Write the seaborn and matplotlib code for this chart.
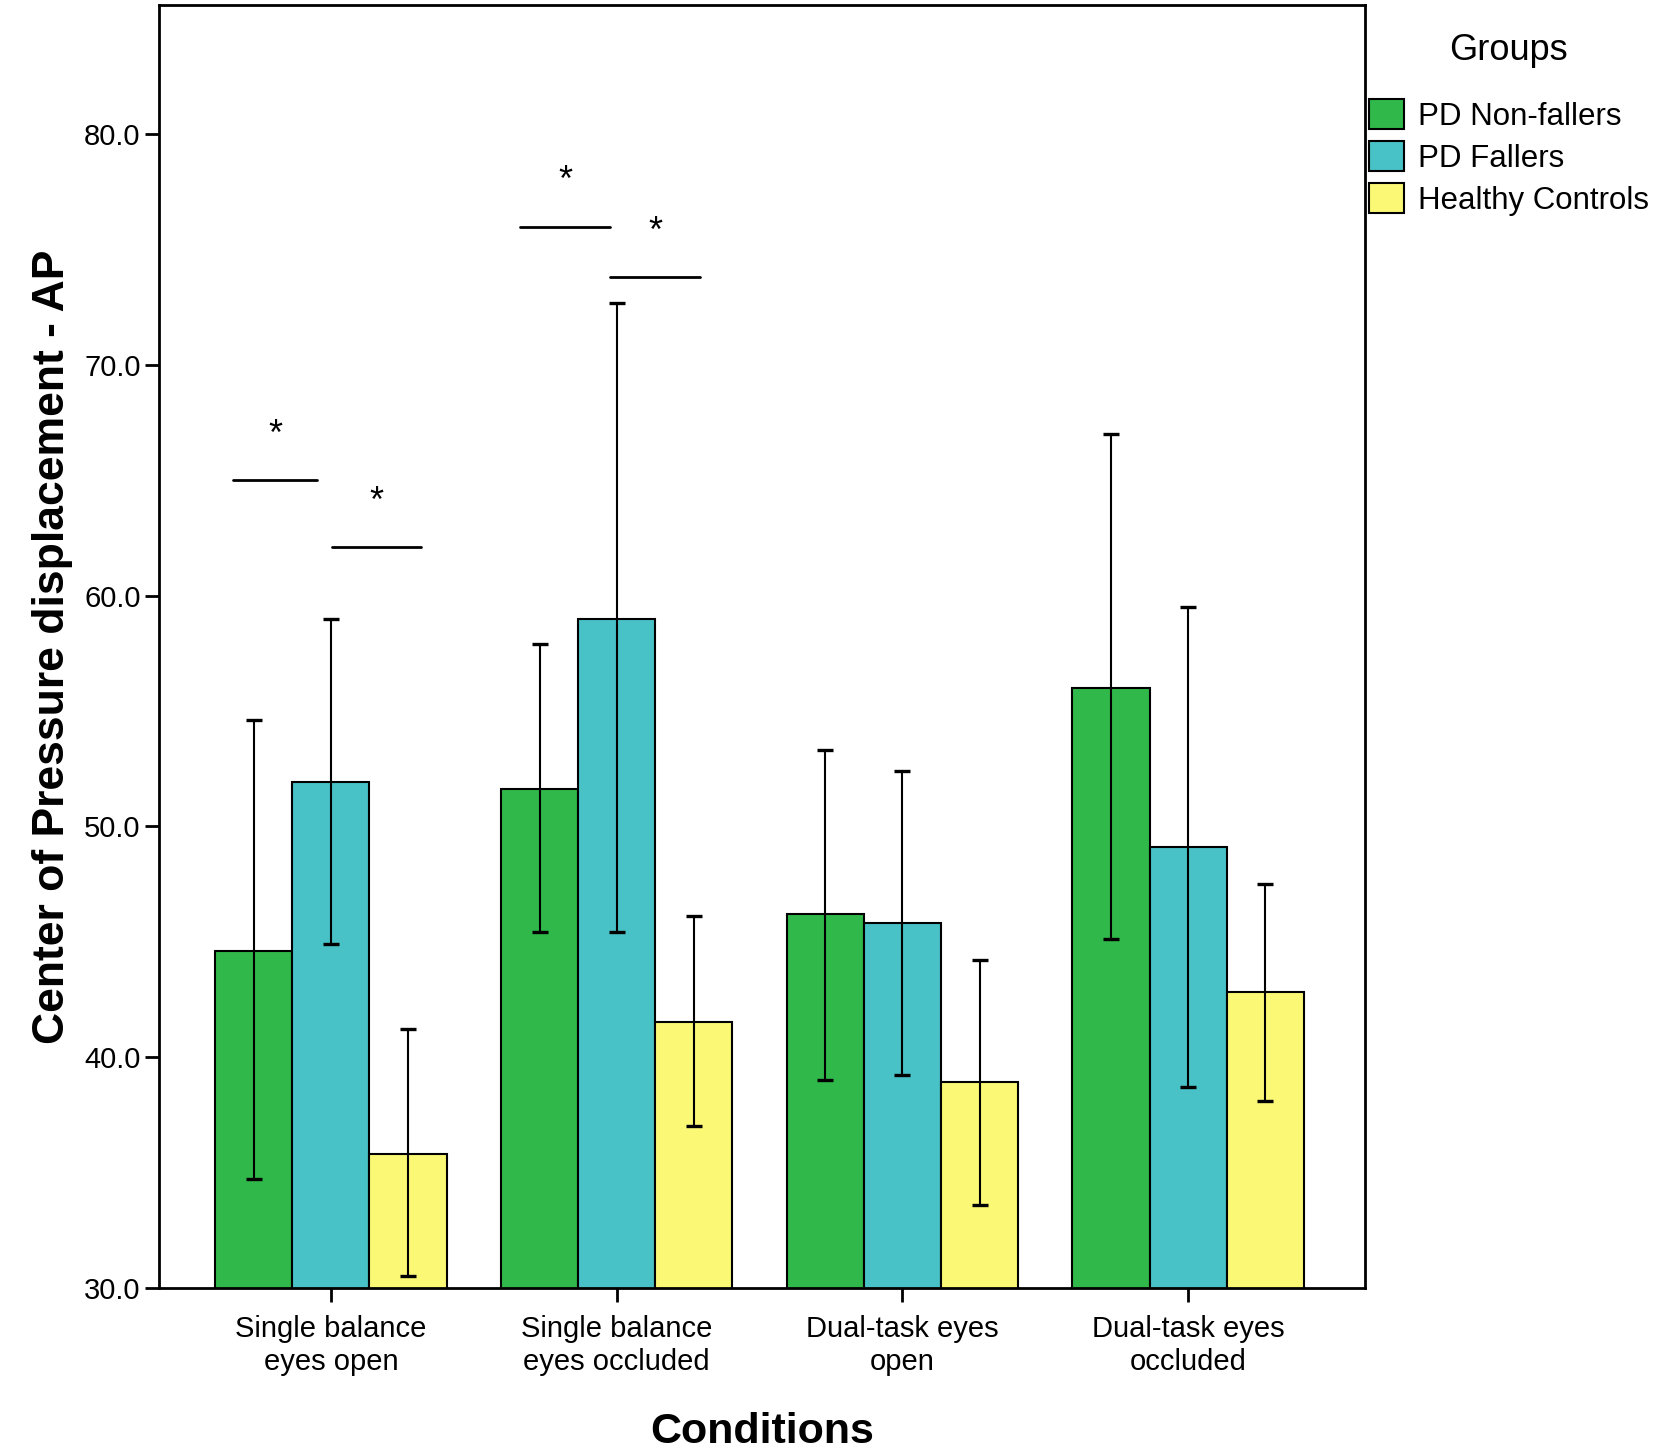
import numpy as np
import pandas as pd
import matplotlib
matplotlib.use("Agg")
import matplotlib.pyplot as plt
import seaborn as sns

conditions = ["Single balance\neyes open", "Single balance\neyes occluded",
              "Dual-task eyes\nopen", "Dual-task eyes\noccluded"]
groups = ["PD Non-fallers", "PD Fallers", "Healthy Controls"]

# mean values per group (one entry per condition)
non_fallers = [44.6, 51.6, 46.2, 56.0]
fallers = [51.9, 59.0, 45.8, 49.1]
controls = [35.8, 41.5, 38.9, 42.8]

# error bar ends
non_fallers_lo = [34.7, 45.4, 39.0, 45.1]
non_fallers_hi = [54.6, 57.9, 53.3, 67.0]
fallers_lo = [44.9, 45.4, 39.2, 38.7]
fallers_hi = [59.0, 72.7, 52.4, 59.5]
controls_lo = [30.5, 37.0, 33.6, 38.1]
controls_hi = [41.2, 46.1, 44.2, 47.5]

# significance brackets: (condition index, x start offset, x end offset, height)
sig_lines = [(0, -0.344, -0.048, 65.0), (0, 0.004, 0.315, 62.1),
             (1, -0.34, -0.022, 76.0), (1, -0.022, 0.29, 73.8)]

colors = ["#30b94a", "#48c2c6", "#fbf876"]

df = pd.DataFrame({
    "Conditions": conditions * 3,
    "Groups": np.repeat(groups, 4),
    "value": non_fallers + fallers + controls,
})
lows = [non_fallers_lo, fallers_lo, controls_lo]
highs = [non_fallers_hi, fallers_hi, controls_hi]

sns.set_style("white")
plt.rcParams['font.family'] = ['Liberation Sans', 'DejaVu Sans']
plt.rcParams['text.color'] = 'black'
plt.rcParams['axes.labelcolor'] = 'black'

fig = plt.figure(figsize=(16.61, 14.5), dpi=100)
ax = fig.add_axes([0.096, 0.112, 0.726, 0.8845])

sns.barplot(data=df, x="Conditions", y="value", hue="Groups", palette=colors,
            errorbar=None, width=0.81, edgecolor="black", linewidth=1.5,
            saturation=1, ax=ax)

bar_conts = list(ax.containers)
for i, cont in enumerate(bar_conts):
    for j, bar in enumerate(cont):
        xc = bar.get_x() + bar.get_width() / 2
        ax.errorbar(xc, (lows[i][j] + highs[i][j]) / 2,
                    yerr=(highs[i][j] - lows[i][j]) / 2,
                    color="black", elinewidth=1.5, capsize=6, capthick=2.4)

for ci, x0, x1, h in sig_lines:
    ax.plot([ci + x0, ci + x1], [h, h], color="black", lw=2)
    ax.text(ci + (x0 + x1) / 2, h + 1.2, "*", ha="center", va="bottom",
            fontsize=26, color="black")

ax.set_ylim(30, 85.6)
ax.set_xlim(-0.6, 3.62)
ax.set_yticks([30, 40, 50, 60, 70, 80])
ax.set_yticklabels([f"{v:.1f}" for v in [30, 40, 50, 60, 70, 80]])
ax.tick_params(axis="both", direction="out", length=10, width=2,
               bottom=True, left=True, color="black", labelsize=21,
               labelcolor="black")
ax.tick_params(axis="x", pad=10)
for s in ax.spines.values():
    s.set_color("black")
    s.set_linewidth(2)

ax.set_xlabel("Conditions", fontsize=31, fontweight="bold", labelpad=26)
ax.set_ylabel("Center of Pressure displacement - AP", fontsize=32,
              fontweight="bold", labelpad=8)

leg = ax.legend(title="Groups", loc="upper left", bbox_to_anchor=(0.985, 0.995),
                frameon=False, fontsize=22.5, title_fontsize=26,
                handlelength=1.1, handleheight=1.1, handletextpad=0.45,
                labelspacing=0.3, borderaxespad=0.3)
leg._legend_box.sep = 22
for h in leg.legend_handles:
    h.set_edgecolor("black")
    h.set_linewidth(1.5)

fig.savefig("out.png", dpi=100)
